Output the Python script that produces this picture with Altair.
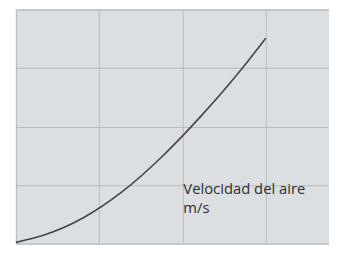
import altair as alt
import pandas as pd

# curve values
xs = [0.0, 0.33, 0.81, 1.28, 1.75, 2.23, 2.72, 3.0]
ys = [0.02, 0.14, 0.44, 0.89, 1.48, 2.19, 3.0, 3.51]

label_lines = ["Velocidad del aire", "m/s"]
label_x = [2.01, 2.01]
label_y = [0.85, 0.52]

grid_vals = [0, 1, 2, 3, 4]

curve = pd.DataFrame({"x": xs, "y": ys})
labels = pd.DataFrame({"x": label_x, "y": label_y, "t": label_lines})

xscale = alt.Scale(domain=[0, 3.759], nice=False, zero=False)
yscale = alt.Scale(domain=[0, 4.0], nice=False, zero=False)
xaxis = alt.Axis(values=grid_vals, labels=False, ticks=False, domain=False,
                 grid=True, gridColor="#b7bbbf", gridWidth=1, title=None)
yaxis = alt.Axis(values=grid_vals, labels=False, ticks=False, domain=False,
                 grid=True, gridColor="#b7bbbf", gridWidth=1, title=None)

line = alt.Chart(curve).mark_line(color="#444444", strokeWidth=1.6,
                                  interpolate="monotone").encode(
    x=alt.X("x:Q", scale=xscale, axis=xaxis),
    y=alt.Y("y:Q", scale=yscale, axis=yaxis),
)

text = alt.Chart(labels).mark_text(align="left", baseline="alphabetic",
                                   font="Open Sans", fontSize=15,
                                   color="#2e2e2e").encode(
    x=alt.X("x:Q", scale=xscale),
    y=alt.Y("y:Q", scale=yscale),
    text="t:N",
)

chart = (line + text).properties(
    width=317, height=237,
    padding={"left": 4, "top": 0, "right": 0, "bottom": 0},
).configure_view(fill="#dcdfe2", stroke="#b7bbbf", strokeWidth=1)

chart.save("out.html", embed_options={"renderer": "svg", "actions": False})
